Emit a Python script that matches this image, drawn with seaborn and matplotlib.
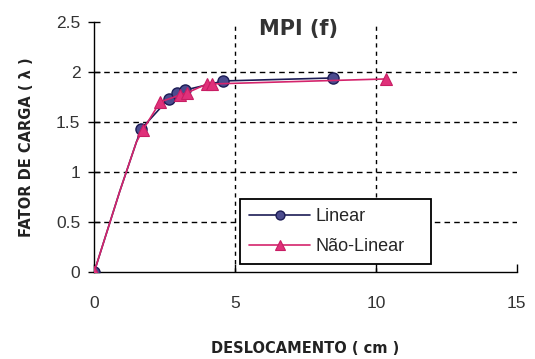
import matplotlib
matplotlib.use("Agg")
import matplotlib.pyplot as plt
import seaborn as sns
import pandas as pd

sns.set_theme(style="white")
plt.rcParams['font.family'] = ['Liberation Sans', 'DejaVu Sans']

# Data
lin_x = [0.0, 0.9, 1.5, 1.67, 2.64, 2.93, 3.24, 4.59, 8.49]
lin_y = [0.0, 0.8, 1.3, 1.43, 1.73, 1.79, 1.82, 1.91, 1.94]
lin_mark = [0, 3, 4, 5, 6, 7, 8]
nl_x = [0.0, 0.9, 1.5, 1.73, 2.34, 3.05, 3.29, 4.0, 4.17, 10.35]
nl_y = [0.0, 0.8, 1.3, 1.42, 1.70, 1.77, 1.79, 1.88, 1.88, 1.93]
nl_mark = [0, 3, 4, 5, 6, 7, 8, 9]

x_ticks = [0, 5, 10, 15]
y_ticks = [0, 0.5, 1, 1.5, 2, 2.5]
y_tick_labels = ["0", "0.5", "1", "1.5", "2", "2.5"]

title = "MPI (f)"
xlabel = "DESLOCAMENTO ( cm )"
ylabel = "FATOR DE CARGA ( λ )"

df_lin = pd.DataFrame({"x": lin_x, "y": lin_y})
df_nl = pd.DataFrame({"x": nl_x, "y": nl_y})

fig = plt.figure(figsize=(5.35, 3.59), dpi=100)
ax = fig.add_axes([0.176, 0.242, 0.790, 0.697])

sns.lineplot(data=df_lin, x="x", y="y", ax=ax, sort=False, color="#1c1c55",
             lw=1.2, marker="o", markersize=8, markerfacecolor="#4b4b8e",
             markeredgecolor="#1c1c55", markeredgewidth=1.0,
             markevery=lin_mark, label="Linear", zorder=3)
sns.lineplot(data=df_nl, x="x", y="y", ax=ax, sort=False, color="#d4246c",
             lw=1.2, marker="^", markersize=9, markerfacecolor="#e0307a",
             markeredgecolor="#c81e64", markeredgewidth=0.8,
             markevery=nl_mark, label="Não-Linear", zorder=4)

ax.set_xlim(0, 15)
ax.set_ylim(0, 2.5)
ax.set_xticks(x_ticks)
ax.set_xticklabels([str(t) for t in x_ticks])
ax.set_yticks(y_ticks)
ax.set_yticklabels(y_tick_labels)

# dashed gridlines
for yv in y_ticks[1:-1]:
    ax.axhline(yv, color="black", ls=(0, (4, 3)), lw=1.0, zorder=1)
for xv in x_ticks[1:-1]:
    ax.axvline(xv, color="black", ls=(0, (3, 3)), lw=1.0, zorder=1)

for s in ["top", "right"]:
    ax.spines[s].set_visible(False)
for s in ["left", "bottom"]:
    ax.spines[s].set_color("black")
    ax.spines[s].set_linewidth(1.0)

ax.tick_params(axis="y", direction="inout", length=8, width=1, colors="black",
               labelsize=12.5, pad=6, left=True)
ax.tick_params(axis="x", direction="in", length=6, width=1, colors="black",
               labelsize=12.5, pad=17, bottom=True)
for lab in ax.get_xticklabels() + ax.get_yticklabels():
    lab.set_color("#333333")

ax.set_xlabel(xlabel, fontsize=10.5, fontweight="bold", labelpad=22,
              family=["DejaVu Sans"], color="#222222")
ax.set_ylabel(ylabel, fontsize=10.5, fontweight="bold", labelpad=16,
              family=["DejaVu Sans"], color="#222222")
ax.set_title(title, fontsize=15, fontweight="bold", x=0.484, y=0.915,
             family=["DejaVu Sans"], color="#333333")

leg = ax.legend(loc="lower left", bbox_to_anchor=(0.345, 0.032, 0.452, 0.332),
                mode="expand", fontsize=13, frameon=True, fancybox=False,
                edgecolor="black", framealpha=1, borderpad=0.5, labelspacing=0.7,
                handlelength=3.4, handletextpad=0.3, borderaxespad=0,
                markerscale=0.8)
leg.get_frame().set_linewidth(1.3)
leg.set_zorder(5)

fig.savefig("out.png", dpi=100)
